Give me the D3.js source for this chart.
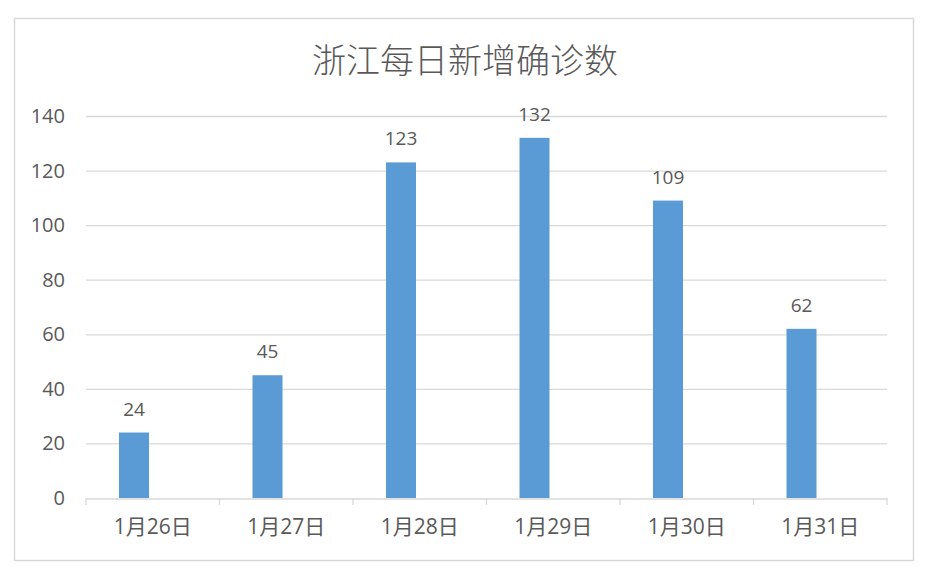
<!DOCTYPE html>
<html lang="zh">
<head>
<meta charset="UTF-8">
<title>浙江每日新增确诊数</title>
<style>
    body { margin: 0; background: #fff; }
    svg { display: block; }
    text { font-family: "Open Sans", "Noto Sans CJK SC", sans-serif; fill: #595959; }
    .title { font-family: "Noto Sans CJK SC", sans-serif; font-weight: 300; }
</style>
</head>
<body>
<svg id="chart" width="926" height="574"></svg>
<script src="https://cdn.jsdelivr.net/npm/d3@7"></script>
<script>
// data
var days = ['1月26日', '1月27日', '1月28日', '1月29日', '1月30日', '1月31日'];
var cases = [24, 45, 123, 132, 109, 62];
var yTicks = [0, 20, 40, 60, 80, 100, 120, 140];

var svg = d3.select('#chart');
var plotLeft = 86, plotRight = 887, plotTop = 116, plotBottom = 498;

// outer frame
svg.append('rect')
    .attr('x', 14.5).attr('y', 18.5)
    .attr('width', 899).attr('height', 542)
    .attr('fill', '#fff')
    .attr('stroke', '#d9d9d9')
    .attr('stroke-width', 1.5);

svg.append('text')
    .attr('class', 'title')
    .attr('x', 465).attr('y', 73)
    .attr('text-anchor', 'middle')
    .attr('font-size', 34)
    .text('浙江每日新增确诊数');

var x = d3.scaleBand().domain(days).range([plotLeft, plotRight]);
var y = d3.scaleLinear().domain([0, 140]).range([plotBottom, plotTop]);

// gridlines
svg.append('g')
    .selectAll('line')
    .data(yTicks.slice(1))
    .join('line')
    .attr('x1', plotLeft).attr('x2', plotRight)
    .attr('y1', d => y(d) + 0.5).attr('y2', d => y(d) + 0.5)
    .attr('stroke', '#d9d9d9')
    .attr('stroke-width', 1.3);

// y labels
svg.append('g')
    .selectAll('text')
    .data(yTicks)
    .join('text')
    .attr('x', 65)
    .attr('y', d => y(d))
    .attr('dy', '0.35em')
    .attr('text-anchor', 'end')
    .attr('font-size', 20)
    .text(d => d);

// bars (sit in left part of each band, like excel with a gap)
var barW = 30;
var barOff = 33;
svg.append('g')
    .selectAll('rect')
    .data(cases)
    .join('rect')
    .attr('x', (d, i) => x(days[i]) + barOff)
    .attr('y', d => y(d))
    .attr('width', barW)
    .attr('height', d => y(0) - y(d))
    .attr('fill', '#5b9bd5');

// value labels
svg.append('g')
    .selectAll('text')
    .data(cases)
    .join('text')
    .attr('x', (d, i) => x(days[i]) + barOff + barW / 2)
    .attr('y', d => y(d) - 17)
    .attr('text-anchor', 'middle')
    .attr('font-size', 19)
    .text(d => d);

// x axis
var xAxis = d3.axisBottom(x).tickSize(0).tickPadding(0);
var gx = svg.append('g')
    .attr('transform', 'translate(0,' + (plotBottom + 0.5) + ')')
    .call(xAxis);
gx.select('.domain').attr('stroke', '#d9d9d9').attr('stroke-width', 1.3);
gx.selectAll('.tick text')
    .attr('font-family', '"Open Sans", "Noto Sans CJK SC", sans-serif')
    .attr('font-size', 21)
    .attr('fill', '#595959')
    .attr('y', 21);

// category separator ticks
svg.append('g')
    .selectAll('line')
    .data(days.concat(['end']))
    .join('line')
    .attr('x1', (d, i) => i < days.length ? x(d) : plotRight)
    .attr('x2', (d, i) => i < days.length ? x(d) : plotRight)
    .attr('y1', plotBottom).attr('y2', plotBottom + 7)
    .attr('stroke', '#d9d9d9')
    .attr('stroke-width', 1.3);
</script>
</body>
</html>
